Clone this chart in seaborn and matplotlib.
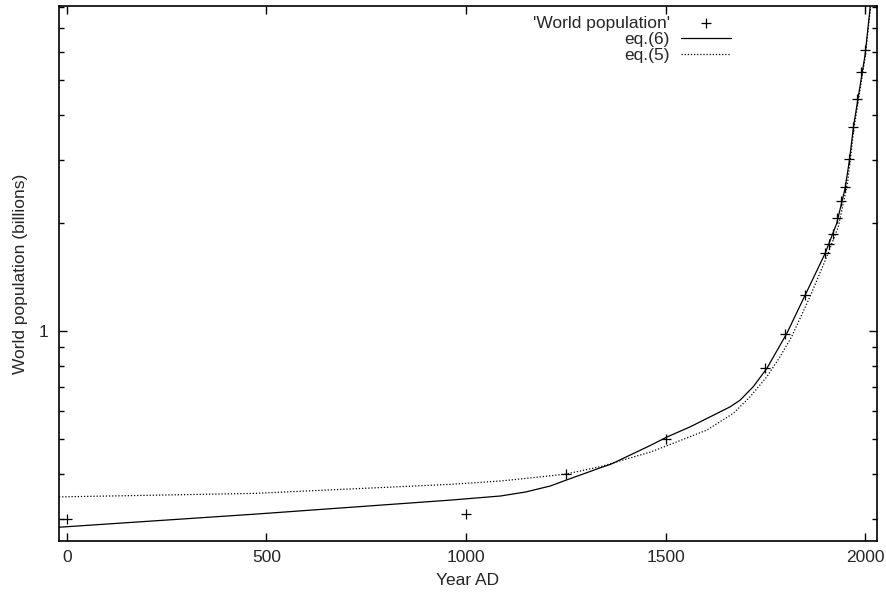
import matplotlib
matplotlib.use("Agg")
import matplotlib.pyplot as plt
from matplotlib.ticker import NullFormatter, FixedLocator
import seaborn as sns

# observed world population (billions)
years_obs = [0, 1000, 1250, 1500, 1750, 1800, 1850, 1900, 1910, 1920,
             1930, 1940, 1950, 1960, 1970, 1980, 1990, 2000]
pop_obs = [0.30, 0.31, 0.40, 0.50, 0.79, 0.98, 1.26, 1.65, 1.75, 1.86,
           2.07, 2.30, 2.52, 3.02, 3.70, 4.44, 5.27, 6.06]

# eq.(6)
eq6_years = [-20, 473, 961, 1086, 1149, 1211, 1253, 1337, 1362, 1462, 1504,
             1562, 1662, 1687, 1720, 1754, 1804, 1850, 1900, 1929, 1950,
             1961, 1971, 2000, 2013]
eq6_pop = [0.284, 0.309, 0.338, 0.347, 0.356, 0.370, 0.385, 0.416, 0.425,
           0.480, 0.507, 0.541, 0.615, 0.642, 0.700, 0.787, 0.985, 1.26,
           1.646, 1.995, 2.498, 2.995, 3.708, 5.872, 8.0]

# eq.(5)
eq5_years = [-20, 473, 961, 1086, 1211, 1253, 1337, 1462, 1520, 1604, 1670,
             1712, 1754, 1787, 1816, 1862, 1904, 1933, 1956, 1964, 1972,
             2001, 2014]
eq5_pop = [0.345, 0.353, 0.374, 0.382, 0.395, 0.400, 0.419, 0.460, 0.487,
           0.530, 0.590, 0.656, 0.746, 0.848, 0.964, 1.246, 1.611, 1.952,
           2.579, 3.059, 3.65, 5.87, 8.0]

x_ticks = [0, 500, 1000, 1500, 2000]

sns.set_style("ticks")
plt.rcParams['font.family'] = ['Liberation Sans', 'DejaVu Sans']
fs = 12.5

fig = plt.figure(figsize=(8.87, 5.95), dpi=100)
ax = fig.add_axes([59/887, 54/595, 818/887, 535/595])

sns.scatterplot(x=years_obs, y=pop_obs, marker='+', s=60, color='black',
                linewidth=0.9, label="'World population'", ax=ax, zorder=3)
sns.lineplot(x=eq6_years, y=eq6_pop, color='black', lw=0.9,
             label='eq.(6)', ax=ax)
sns.lineplot(x=eq5_years, y=eq5_pop, color='black', lw=0.9,
             linestyle=(0, (1, 1.5)), label='eq.(5)', ax=ax)

ax.set_yscale('log')
ax.set_xlim(-20, 2030)
ax.set_ylim(0.26, 8.05)

ax.set_xticks(x_ticks)
ax.yaxis.set_major_locator(FixedLocator([1]))
ax.yaxis.set_minor_locator(FixedLocator([0.3, 0.4, 0.5, 0.6, 0.7, 0.8, 0.9,
                                         2, 3, 4, 5, 6, 7, 8]))
ax.set_yticklabels(['1'])
ax.yaxis.set_minor_formatter(NullFormatter())

ax.tick_params(which='both', direction='in', top=True, right=True,
               labelsize=fs, color='black')
ax.tick_params(which='major', length=6, width=1, pad=6.5)
ax.tick_params(which='minor', length=3.5, width=1)
ax.tick_params(axis='y', which='major', pad=8)
for sp in ax.spines.values():
    sp.set_linewidth(1.2)
    sp.set_color('black')

ax.set_xlabel('Year AD', fontsize=fs, labelpad=6)
ax.set_ylabel('World population (billions)', fontsize=fs, labelpad=7)

handles, labels = ax.get_legend_handles_labels()
leg = ax.legend(handles, labels, loc='upper right',
                bbox_to_anchor=((731 - 59) / 818, 0.982),
                frameon=False, markerfirst=False, borderpad=0,
                borderaxespad=0, handlelength=2.9, handletextpad=0.63,
                labelspacing=0.06, fontsize=fs)

fig.savefig('out.png', dpi=100)
